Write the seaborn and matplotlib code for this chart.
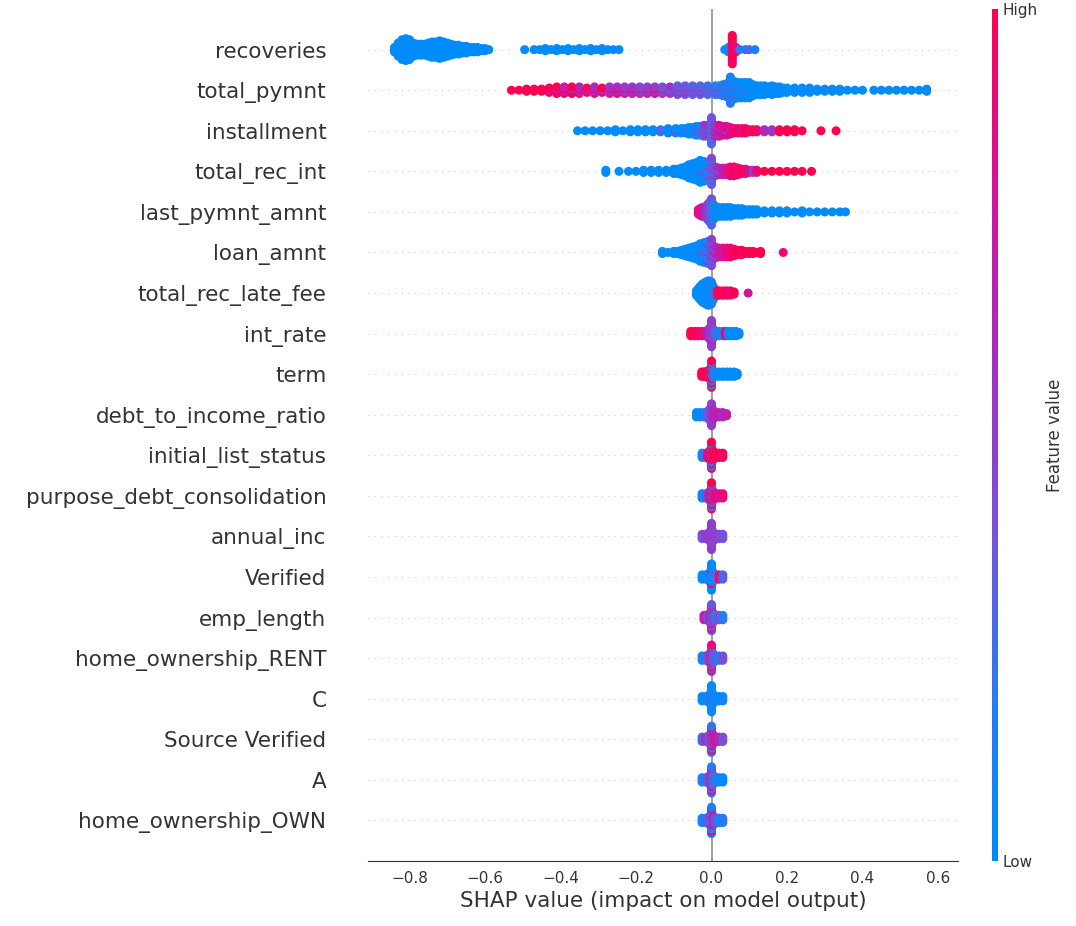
import numpy as np
import pandas as pd
import matplotlib
matplotlib.use('Agg')
import matplotlib.pyplot as plt
import seaborn as sns
from matplotlib.colors import LinearSegmentedColormap, Normalize
from matplotlib.cm import ScalarMappable

# feature names, top to bottom
features = ['recoveries', 'total_pymnt', 'installment', 'total_rec_int', 'last_pymnt_amnt',
            'loan_amnt', 'total_rec_late_fee', 'int_rate', 'term', 'debt_to_income_ratio',
            'initial_list_status', 'purpose_debt_consolidation', 'annual_inc', 'Verified',
            'emp_length', 'home_ownership_RENT', 'C', 'Source Verified', 'A', 'home_ownership_OWN']

# each row: (shap value, number of points, feature value 0=low 1=high)
recoveries = [
    (-0.84, 3, 0.0), (-0.83, 7, 0.0), (-0.82, 10, 0.0), (-0.81, 11, 0.0), (-0.80, 10, 0.0),
    (-0.79, 7, 0.0), (-0.78, 6, 0.0), (-0.77, 6, 0.0), (-0.76, 6, 0.0), (-0.75, 7, 0.0),
    (-0.74, 8, 0.0), (-0.73, 8, 0.0), (-0.72, 9, 0.0), (-0.71, 8, 0.0), (-0.70, 7, 0.0),
    (-0.69, 6, 0.0), (-0.68, 5, 0.0), (-0.67, 5, 0.0), (-0.66, 4, 0.0), (-0.65, 4, 0.0),
    (-0.64, 3, 0.0), (-0.63, 3, 0.0), (-0.62, 3, 0.0), (-0.61, 2, 0.0), (-0.60, 2, 0.0),
    (-0.59, 1, 0.0),
    (-0.495, 1, 0.0), (-0.47, 1, 0.0), (-0.455, 1, 0.0), (-0.44, 2, 0.0), (-0.425, 1, 0.0),
    (-0.41, 2, 0.0), (-0.395, 1, 0.0), (-0.38, 2, 0.0), (-0.365, 1, 0.0), (-0.35, 2, 0.0),
    (-0.335, 1, 0.0), (-0.32, 2, 0.0), (-0.305, 1, 0.0), (-0.29, 2, 0.0), (-0.275, 1, 0.0),
    (-0.26, 1, 0.0), (-0.245, 1, 0.0),
    (0.035, 1, 0.0), (0.045, 3, 0.1), (0.055, 11, 1.0), (0.055, 3, 0.85), (0.065, 3, 0.9),
    (0.075, 1, 0.2), (0.09, 1, 0.1), (0.10, 1, 0.3), (0.115, 1, 0.1),
]
total_pymnt = [
    (-0.53, 1, 1.0), (-0.51, 1, 1.0), (-0.49, 2, 1.0), (-0.47, 2, 1.0), (-0.45, 2, 1.0),
    (-0.43, 2, 1.0), (-0.43, 1, 0.75), (-0.41, 3, 1.0), (-0.41, 1, 0.7), (-0.39, 2, 0.95),
    (-0.39, 2, 0.7), (-0.37, 3, 1.0), (-0.37, 1, 0.6), (-0.35, 2, 0.9), (-0.35, 2, 0.65),
    (-0.33, 2, 0.95), (-0.33, 1, 0.7), (-0.31, 2, 0.85), (-0.31, 2, 0.6), (-0.29, 2, 1.0),
    (-0.29, 1, 0.6), (-0.27, 2, 0.8), (-0.27, 2, 0.55), (-0.25, 2, 0.9), (-0.25, 2, 0.6),
    (-0.23, 2, 0.75), (-0.23, 2, 0.5), (-0.21, 2, 0.8), (-0.21, 2, 0.55), (-0.19, 2, 0.7),
    (-0.19, 2, 0.45), (-0.17, 2, 0.65), (-0.17, 2, 0.5), (-0.15, 2, 0.9), (-0.15, 2, 0.5),
    (-0.13, 2, 0.6), (-0.13, 2, 0.4), (-0.11, 3, 0.55), (-0.11, 1, 0.35), (-0.09, 2, 0.5),
    (-0.09, 3, 0.35), (-0.07, 2, 0.55), (-0.07, 3, 0.35), (-0.05, 2, 0.45), (-0.05, 3, 0.3),
    (-0.03, 2, 0.5), (-0.03, 3, 0.3), (-0.01, 2, 0.4), (-0.01, 3, 0.25), (0.01, 2, 0.4),
    (0.01, 3, 0.2), (0.02, 2, 0.35), (0.02, 3, 0.2), (0.03, 2, 0.3), (0.03, 4, 0.15),
    (0.04, 3, 0.3), (0.04, 4, 0.1), (0.05, 4, 0.35), (0.05, 9, 0.05), (0.06, 3, 0.3),
    (0.06, 6, 0.0), (0.07, 2, 0.3), (0.07, 6, 0.0), (0.08, 2, 0.25), (0.08, 6, 0.0),
    (0.09, 1, 0.3), (0.09, 7, 0.0), (0.10, 1, 0.25), (0.10, 7, 0.0), (0.11, 6, 0.0),
    (0.12, 5, 0.0), (0.13, 5, 0.0), (0.14, 5, 0.0), (0.15, 4, 0.0), (0.16, 5, 0.0),
    (0.17, 4, 0.0), (0.18, 4, 0.0), (0.19, 3, 0.0), (0.20, 3, 0.0), (0.22, 3, 0.0),
    (0.24, 3, 0.0), (0.26, 3, 0.0), (0.28, 2, 0.0), (0.30, 2, 0.0), (0.32, 2, 0.0),
    (0.34, 2, 0.0), (0.36, 1, 0.0), (0.38, 1, 0.0), (0.40, 1, 0.0), (0.43, 1, 0.0),
    (0.45, 1, 0.0), (0.47, 1, 0.0), (0.49, 1, 0.0), (0.51, 1, 0.0), (0.53, 1, 0.0),
    (0.55, 1, 0.0), (0.57, 2, 0.0),
]
installment = [
    (-0.355, 1, 0.0), (-0.335, 1, 0.0), (-0.315, 1, 0.0), (-0.295, 1, 0.0), (-0.275, 1, 0.0),
    (-0.255, 2, 0.0), (-0.235, 1, 0.0), (-0.215, 2, 0.0), (-0.195, 2, 0.0), (-0.175, 2, 0.0),
    (-0.155, 2, 0.0), (-0.135, 2, 0.25), (-0.115, 3, 0.0), (-0.095, 2, 0.0), (-0.095, 1, 0.4),
    (-0.08, 3, 0.0), (-0.07, 3, 0.0), (-0.06, 3, 0.0), (-0.06, 1, 0.4), (-0.05, 4, 0.0),
    (-0.04, 4, 0.05), (-0.04, 1, 0.45), (-0.03, 3, 0.05), (-0.03, 2, 0.4), (-0.02, 3, 0.3),
    (-0.02, 3, 0.5), (-0.01, 3, 0.35), (-0.01, 3, 0.55),
    (0.0, 7, 0.4), (0.0, 6, 0.2),
    (0.01, 3, 0.7), (0.01, 3, 0.5), (0.02, 4, 0.8), (0.02, 2, 0.5), (0.03, 5, 0.75),
    (0.04, 4, 0.85), (0.04, 1, 0.5), (0.05, 4, 0.8), (0.06, 3, 0.9), (0.07, 3, 0.95),
    (0.08, 3, 0.85), (0.09, 3, 1.0), (0.10, 2, 0.9), (0.11, 2, 1.0), (0.12, 2, 0.95),
    (0.14, 2, 0.6), (0.16, 2, 0.55), (0.18, 2, 1.0), (0.20, 2, 1.0), (0.22, 2, 1.0),
    (0.24, 1, 1.0), (0.29, 1, 1.0), (0.33, 1, 1.0),
]
total_rec_int = [
    (-0.28, 2, 0.0), (-0.245, 1, 0.0), (-0.22, 1, 0.0), (-0.20, 1, 0.0), (-0.18, 2, 0.0),
    (-0.16, 2, 0.0), (-0.14, 2, 0.0), (-0.12, 2, 0.0), (-0.10, 3, 0.0), (-0.09, 3, 0.0),
    (-0.08, 4, 0.0), (-0.07, 5, 0.0), (-0.06, 7, 0.0), (-0.05, 8, 0.0), (-0.04, 9, 0.0),
    (-0.03, 10, 0.0), (-0.03, 1, 0.4), (-0.02, 9, 0.0), (-0.02, 1, 0.4), (-0.01, 7, 0.1),
    (-0.01, 2, 0.45),
    (0.0, 8, 0.45), (0.0, 5, 0.2),
    (0.01, 3, 0.5), (0.01, 2, 0.3), (0.02, 3, 0.6), (0.02, 1, 0.4), (0.03, 4, 0.65),
    (0.04, 4, 0.8), (0.05, 5, 0.9), (0.06, 5, 0.95), (0.07, 4, 0.9), (0.08, 3, 1.0),
    (0.09, 3, 0.9), (0.10, 2, 0.85), (0.11, 2, 0.5), (0.12, 2, 0.9), (0.14, 1, 1.0),
    (0.16, 1, 1.0), (0.18, 1, 1.0), (0.20, 1, 1.0), (0.22, 1, 1.0), (0.24, 1, 1.0),
    (0.265, 1, 1.0),
]
last_pymnt_amnt = [
    (-0.035, 3, 0.85), (-0.03, 4, 0.9), (-0.025, 5, 0.8), (-0.02, 5, 0.7), (-0.015, 6, 0.6),
    (-0.01, 8, 0.5), (-0.005, 10, 0.45), (0.0, 8, 0.4), (0.0, 5, 0.1), (0.005, 8, 0.2),
    (0.01, 6, 0.1), (0.015, 5, 0.05), (0.02, 5, 0.0), (0.03, 5, 0.0), (0.04, 5, 0.0),
    (0.05, 5, 0.0), (0.06, 4, 0.0), (0.07, 4, 0.0), (0.08, 4, 0.0), (0.09, 3, 0.0),
    (0.10, 3, 0.0), (0.11, 3, 0.0), (0.12, 3, 0.0), (0.14, 2, 0.0), (0.16, 2, 0.0),
    (0.18, 2, 0.0), (0.20, 2, 0.0), (0.22, 1, 0.0), (0.24, 2, 0.0), (0.26, 1, 0.0),
    (0.28, 1, 0.0), (0.30, 1, 0.0), (0.32, 1, 0.0), (0.34, 1, 0.0), (0.355, 1, 0.0),
]
loan_amnt = [
    (-0.13, 2, 0.0), (-0.115, 1, 0.0), (-0.10, 2, 0.0), (-0.09, 2, 0.0), (-0.08, 3, 0.0),
    (-0.07, 4, 0.0), (-0.06, 5, 0.0), (-0.05, 6, 0.0), (-0.04, 7, 0.0), (-0.03, 8, 0.0),
    (-0.03, 1, 0.4), (-0.02, 9, 0.05), (-0.02, 1, 0.5), (-0.01, 8, 0.1), (-0.01, 3, 0.5),
    (0.0, 8, 0.5), (0.0, 5, 0.3),
    (0.01, 4, 0.6), (0.01, 2, 0.4), (0.02, 5, 0.7), (0.03, 5, 0.8), (0.04, 5, 0.85),
    (0.05, 5, 0.9), (0.06, 4, 0.95), (0.07, 3, 1.0), (0.08, 3, 0.95), (0.09, 2, 1.0),
    (0.10, 2, 1.0), (0.11, 2, 1.0), (0.12, 1, 1.0), (0.13, 2, 1.0), (0.19, 1, 0.9),
]
total_rec_late_fee = [
    (-0.04, 3, 0.0), (-0.035, 5, 0.0), (-0.03, 7, 0.0), (-0.025, 9, 0.0), (-0.02, 10, 0.0),
    (-0.015, 11, 0.0), (-0.01, 12, 0.0), (-0.005, 12, 0.05), (0.0, 11, 0.1), (0.005, 7, 0.1),
    (0.015, 3, 0.9), (0.02, 3, 1.0), (0.03, 3, 0.95), (0.04, 3, 1.0), (0.05, 3, 0.9),
    (0.06, 2, 1.0), (0.097, 1, 0.8),
]
int_rate = [
    (-0.055, 3, 1.0), (-0.045, 3, 1.0), (-0.035, 3, 0.95), (-0.025, 3, 0.9), (-0.015, 3, 0.85),
    (-0.01, 4, 0.7), (-0.005, 6, 0.55), (0.0, 11, 0.5), (0.0, 2, 0.6), (0.005, 5, 0.45),
    (0.01, 3, 0.3), (0.02, 3, 0.1), (0.03, 3, 0.05), (0.037, 3, 0.9), (0.045, 3, 0.0),
    (0.055, 3, 0.0), (0.065, 3, 0.0), (0.073, 2, 0.0),
]
term = [
    (-0.026, 3, 1.0), (-0.02, 3, 1.0), (-0.015, 3, 1.0), (-0.01, 4, 1.0), (-0.005, 5, 0.9),
    (0.0, 8, 1.0), (0.0, 5, 0.1), (0.005, 4, 0.3), (0.01, 3, 0.1), (0.02, 3, 0.0),
    (0.03, 3, 0.0), (0.04, 3, 0.0), (0.05, 3, 0.0), (0.06, 3, 0.0), (0.068, 2, 0.0),
]
debt_to_income_ratio = [
    (-0.04, 3, 0.0), (-0.03, 3, 0.05), (-0.02, 3, 0.1), (-0.01, 4, 0.3), (-0.005, 6, 0.4),
    (0.0, 11, 0.5), (0.005, 5, 0.6), (0.01, 3, 0.65), (0.02, 3, 0.7), (0.03, 3, 0.6),
    (0.04, 2, 0.7),
]
initial_list_status = [
    (-0.025, 3, 0.1), (-0.015, 3, 0.3), (-0.01, 3, 0.9), (-0.005, 5, 0.9), (0.0, 8, 1.0),
    (0.0, 5, 0.1), (0.005, 5, 0.9), (0.01, 3, 1.0), (0.02, 3, 1.0), (0.03, 3, 0.95),
]
purpose_debt_consolidation = [
    (-0.025, 3, 0.1), (-0.015, 3, 0.2), (-0.01, 3, 0.5), (-0.005, 5, 0.7), (0.0, 8, 1.0),
    (0.0, 5, 0.2), (0.005, 5, 0.6), (0.01, 3, 0.9), (0.02, 3, 0.8), (0.03, 3, 0.9),
]
annual_inc = [
    (-0.025, 3, 0.4), (-0.015, 3, 0.45), (-0.01, 3, 0.5), (-0.005, 5, 0.5), (0.0, 13, 0.5),
    (0.005, 5, 0.45), (0.01, 3, 0.5), (0.02, 3, 0.45), (0.03, 3, 0.4),
]
verified = [
    (-0.025, 3, 0.0), (-0.015, 3, 0.05), (-0.01, 3, 0.0), (-0.005, 5, 0.1), (0.0, 11, 0.05),
    (0.0, 2, 0.9), (0.005, 5, 0.1), (0.01, 3, 0.2), (0.02, 3, 0.9), (0.03, 3, 0.3),
]
emp_length = [
    (-0.02, 3, 0.7), (-0.01, 3, 0.3), (-0.005, 5, 0.6), (0.0, 8, 0.35), (0.0, 5, 0.8),
    (0.005, 5, 0.5), (0.01, 3, 0.2), (0.02, 3, 0.4), (0.03, 3, 0.2),
]
home_ownership_rent = [
    (-0.025, 3, 0.1), (-0.015, 3, 0.2), (-0.01, 3, 0.4), (-0.005, 5, 0.5), (0.0, 7, 0.9),
    (0.0, 6, 0.3), (0.005, 5, 0.4), (0.01, 3, 0.3), (0.02, 3, 0.2), (0.03, 3, 0.4),
]
grade_c = [
    (-0.025, 3, 0.0), (-0.015, 3, 0.05), (-0.01, 3, 0.1), (-0.005, 5, 0.1), (0.0, 12, 0.05),
    (0.0, 1, 0.5), (0.005, 5, 0.1), (0.01, 3, 0.05), (0.02, 3, 0.0), (0.03, 3, 0.1),
]
source_verified = [
    (-0.025, 3, 0.3), (-0.015, 3, 0.6), (-0.01, 3, 0.5), (-0.005, 5, 0.4), (0.0, 7, 0.2),
    (0.0, 6, 0.9), (0.005, 5, 0.6), (0.01, 3, 0.8), (0.02, 3, 0.6), (0.03, 3, 0.4),
]
grade_a = [
    (-0.025, 3, 0.2), (-0.015, 3, 0.1), (-0.01, 3, 0.3), (-0.005, 5, 0.5), (0.0, 7, 0.2),
    (0.0, 6, 0.8), (0.005, 5, 0.4), (0.01, 3, 0.1), (0.02, 3, 0.1), (0.03, 3, 0.0),
]
home_ownership_own = [
    (-0.025, 3, 0.1), (-0.015, 3, 0.2), (-0.01, 3, 0.3), (-0.005, 5, 0.4), (0.0, 9, 0.1),
    (0.0, 4, 0.9), (0.005, 5, 0.6), (0.01, 3, 0.4), (0.02, 3, 0.1), (0.03, 3, 0.2),
]

rows = [recoveries, total_pymnt, installment, total_rec_int, last_pymnt_amnt, loan_amnt,
        total_rec_late_fee, int_rate, term, debt_to_income_ratio, initial_list_status,
        purpose_debt_consolidation, annual_inc, verified, emp_length, home_ownership_rent,
        grade_c, source_verified, grade_a, home_ownership_own]

xticks = [-0.8, -0.6, -0.4, -0.2, 0.0, 0.2, 0.4, 0.6]

# shap-like red/blue colormap
cmap = LinearSegmentedColormap.from_list(
    'shap_red_blue', ['#008bfb', '#2a7af2', '#7a50d8', '#a82bbd', '#d8109a', '#ff0051'])

# beeswarm: stack the points of each bin vertically around the row
dy = 0.054
n_feat = len(features)
records = []
for i, row in enumerate(rows):
    y0 = n_feat - 1 - i
    bins = {}
    for x, n, c in row:
        bins.setdefault(x, []).append((n, c))
    for x, groups in bins.items():
        seq = []
        for g, (n, c) in enumerate(groups):
            for j in range(n):
                seq.append(((j + 0.5) / n, g, c))
        seq.sort()
        total = len(seq)
        for k, (_, _, c) in enumerate(seq):
            records.append((x, y0 + (k - (total - 1) / 2) * dy, c))
df = pd.DataFrame(records, columns=['shap', 'ypos', 'value'])

sns.set_style('white')
axis_color = '#333333'
fig = plt.figure(figsize=(10.76, 9.26), dpi=100)
ax = fig.add_axes([0.342, 0.0702, 0.548, 0.920])

for pos in range(n_feat):
    ax.axhline(pos, color='#cccccc', lw=0.8, dashes=(1, 5), zorder=-1)
ax.axvline(0, color='#999999', lw=1.3, zorder=-1)

sns.scatterplot(data=df, x='shap', y='ypos', hue='value', palette=cmap, hue_norm=(0, 1),
                s=42, linewidth=0, legend=False, ax=ax, zorder=3)

ax.set_xlim(-0.91, 0.652)
ax.set_ylim(-1, n_feat)
ax.set_yticks(range(n_feat))
ax.set_yticklabels(features[::-1], fontsize=15.5, color=axis_color)
ax.set_xticks(xticks)
ax.tick_params(axis='y', length=0, pad=30)
ax.tick_params(axis='x', labelsize=11, color=axis_color, labelcolor=axis_color)
ax.set_xlabel('SHAP value (impact on model output)', fontsize=15.5, color=axis_color)
ax.set_ylabel('')
for side in ['top', 'right', 'left']:
    ax.spines[side].set_visible(False)
ax.spines['bottom'].set_color(axis_color)

cax = fig.add_axes([0.922, 0.0702, 0.0056, 0.920])
sm = ScalarMappable(cmap=cmap, norm=Normalize(0, 1))
cb = fig.colorbar(sm, cax=cax, ticks=[0, 1])
cb.set_ticklabels(['Low', 'High'])
cb.ax.tick_params(labelsize=11, length=0, labelcolor=axis_color)
cb.set_label('Feature value', size=12, labelpad=6, color=axis_color)
cb.outline.set_visible(False)

fig.savefig('out.png', dpi=100)
